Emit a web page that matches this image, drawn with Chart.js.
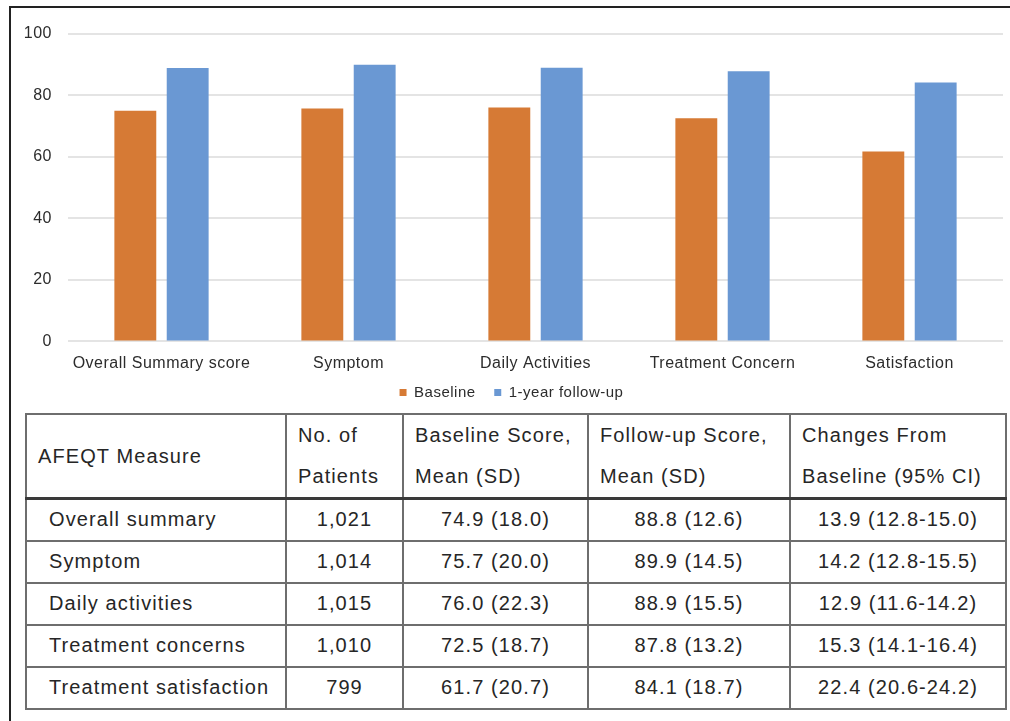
<!DOCTYPE html>
<html>
<head>
<meta charset="utf-8">
<script src="https://cdn.jsdelivr.net/npm/chart.js@4.4.1/dist/chart.umd.min.js"></script>
<style>
  html, body { margin: 0; padding: 0; background: #fff; }
  body { width: 1010px; height: 721px; position: relative; overflow: hidden; font-family: "Liberation Sans", Arial, sans-serif; }
  #frame { position: absolute; left: 9px; top: 6px; width: 1100px; height: 800px; border-left: 2px solid #222; border-top: 2px solid #222; }
  #chartBox { position: absolute; left: 10px; top: 8px; width: 1000px; height: 400px; }
  table { position: absolute; left: 25px; top: 413px; width: 980px; table-layout: fixed; border-collapse: collapse; color: #262626; font-size: 20px; letter-spacing: 1.1px; }
  td, th { border: 2px solid #6e6e6e; font-weight: normal; padding: 0; white-space: nowrap; }
  th { text-align: left; vertical-align: middle; line-height: 41px; padding-left: 11px; }
  thead tr { height: 84px; }
  thead th { border-bottom: 3px solid #3a3a3a; }
  tbody tr { height: 42px; }
  tbody td { text-align: center; }
  tbody td.measure { text-align: left; padding-left: 22px; }
</style>
</head>
<body>
<div id="frame"></div>
<div id="chartBox"><canvas id="chart"></canvas></div>
<table id="afeqt"></table>
<script>
// AFEQT domain scores at baseline and after one year
const categories = ['Overall Summary score', 'Symptom', 'Daily Activities', 'Treatment Concern', 'Satisfaction'];
const seriesNames = ['Baseline', '1-year follow-up'];
const baseline = [74.9, 75.7, 76.0, 72.5, 61.7];
const followUp = [88.8, 89.9, 88.9, 87.8, 84.1];
const yTicks = [0, 20, 40, 60, 80, 100];

// Table rows
const tableHeaders = [['AFEQT Measure'], ['No. of', 'Patients'], ['Baseline Score,', 'Mean (SD)'], ['Follow-up Score,', 'Mean (SD)'], ['Changes From', 'Baseline (95% CI)']];
const measures = ['Overall summary', 'Symptom', 'Daily activities', 'Treatment concerns', 'Treatment satisfaction'];
const patients = [1021, 1014, 1015, 1010, 799];
const baselineSD = [18.0, 20.0, 22.3, 18.7, 20.7];
const followUpSD = [12.6, 14.5, 15.5, 13.2, 18.7];
const change = [13.9, 14.2, 12.9, 15.3, 22.4];
const ciLow = [12.8, 12.8, 11.6, 14.1, 20.6];
const ciHigh = [15.0, 15.5, 14.2, 16.4, 24.2];

const ORANGE = '#d67a35';
const BLUE = '#6a98d3';
const TEXT = '#2c2c2c';

// Slightly tracked-out lettering for canvas text
const tracking = {
  id: 'tracking',
  beforeLayout(chart) { chart.ctx.letterSpacing = '0.5px'; },
  beforeDraw(chart) { chart.ctx.letterSpacing = '0.5px'; }
};

Chart.defaults.font.family = '"Liberation Sans", Arial, sans-serif';
Chart.defaults.color = TEXT;

new Chart(document.getElementById('chart'), {
  type: 'bar',
  data: {
    labels: categories,
    datasets: [
      { label: seriesNames[0], data: baseline, backgroundColor: ORANGE },
      { label: seriesNames[1], data: followUp, backgroundColor: BLUE }
    ]
  },
  options: {
    responsive: true,
    maintainAspectRatio: false,
    animation: false,
    categoryPercentage: 0.56,
    barPercentage: 0.8,
    layout: { padding: { left: 10, right: 7, top: 18, bottom: -2 } },
    plugins: {
      legend: {
        position: 'bottom',
        labels: {
          boxWidth: 7, boxHeight: 7, padding: 0, font: { size: 15, lineHeight: 0.8 }, color: TEXT,
          // keep a gap between the legend entries
          generateLabels(chart) {
            const items = Chart.defaults.plugins.legend.labels.generateLabels(chart);
            items.forEach((it, i) => { if (i < items.length - 1) it.text += '    '; });
            return items;
          }
        }
      },
      tooltip: { enabled: false }
    },
    scales: {
      x: {
        grid: { display: false, drawTicks: false },
        border: { display: false },
        ticks: { font: { size: 16, lineHeight: 0.6 }, padding: 17, maxRotation: 0, autoSkip: false }
      },
      y: {
        min: 0,
        max: 100,
        afterFit(scale) { scale.width = 48; },
        afterBuildTicks(scale) { scale.ticks = yTicks.map(v => ({ value: v })); },
        grid: { color: '#e4e4e4', lineWidth: 2, drawTicks: false },
        border: { display: false },
        ticks: { font: { size: 16 }, padding: 16 }
      }
    }
  },
  plugins: [tracking]
});

// Summary table
const table = document.getElementById('afeqt');
const colWidths = [260, 117, 185, 202, 216];
const colgroup = document.createElement('colgroup');
colWidths.forEach(w => {
  const col = document.createElement('col');
  col.style.width = w + 'px';
  colgroup.appendChild(col);
});
table.appendChild(colgroup);

const thead = document.createElement('thead');
const hr = document.createElement('tr');
tableHeaders.forEach(lines => {
  const th = document.createElement('th');
  th.innerHTML = lines.join('<br>');
  hr.appendChild(th);
});
thead.appendChild(hr);
table.appendChild(thead);

const tbody = document.createElement('tbody');
measures.forEach((m, r) => {
  const tr = document.createElement('tr');
  const cells = [
    m,
    patients[r].toLocaleString('en-US'),
    baseline[r].toFixed(1) + ' (' + baselineSD[r].toFixed(1) + ')',
    followUp[r].toFixed(1) + ' (' + followUpSD[r].toFixed(1) + ')',
    change[r].toFixed(1) + ' (' + ciLow[r].toFixed(1) + '-' + ciHigh[r].toFixed(1) + ')'
  ];
  cells.forEach((c, i) => {
    const td = document.createElement('td');
    if (i === 0) td.className = 'measure';
    td.textContent = c;
    tr.appendChild(td);
  });
  tbody.appendChild(tr);
});
table.appendChild(tbody);
</script>
</body>
</html>
